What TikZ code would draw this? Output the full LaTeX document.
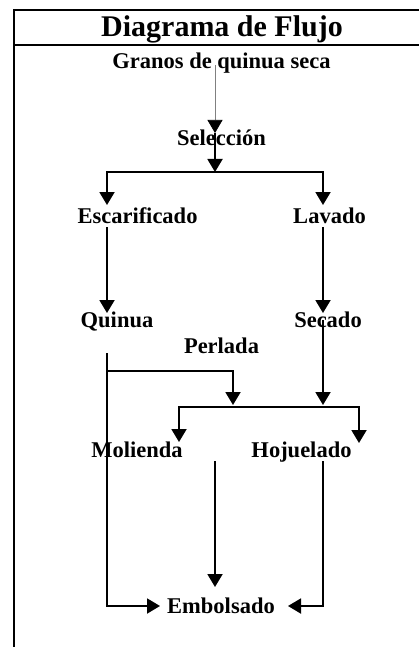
\documentclass[tikz,border=0pt]{standalone}
\usepackage{fontspec}
\setmainfont{Liberation Serif}
\usetikzlibrary{arrows.meta}

\begin{document}
\begin{tikzpicture}[x=1pt,y=-1pt,
		etiqueta/.style={font=\fontsize{22.5}{27}\selectfont\bfseries, inner sep=0pt, anchor=base},
		marco/.style={line width=2pt},
		fina/.style={line width=0.7pt, gray, -{Triangle[width=15pt,length=13pt,color=black]}},
		flecha/.style={line width=1.9pt, -{Triangle[width=15pt,length=13pt]}}]
						\useasboundingbox (0,0) rectangle (419,647);
						\draw[marco] (419,10) -- (14,10) -- (14,647);
						\draw[marco] (14,45) -- (419,45);
						\node[etiqueta, font=\fontsize{30}{36}\selectfont\bfseries] (tit) at (222,37) {Diagrama de Flujo};
						\node[etiqueta] (gra) at (221.5,69) {Granos de quinua seca};
						\node[etiqueta] (sel) at (221.5,146) {Selección};
						\node[etiqueta] (esc) at (137.5,223) {Escarificado};
						\node[etiqueta] (lav) at (329.5,223) {Lavado};
						\node[etiqueta] (qui) at (117,327) {Quinua};
						\node[etiqueta] (sec) at (328,327) {Secado};
						\node[etiqueta] (per) at (221.5,353) {Perlada};
						\node[etiqueta] (mol) at (137,457) {Molienda};
						\node[etiqueta] (hoj) at (301.5,457) {Hojuelado};
						\node[etiqueta] (emb) at (221,613) {Embolsado};
						\coordinate (gra-s) at (215,65);
						\coordinate (sel-n) at (215,133);
						\coordinate (sel-r) at (215,172);
						\coordinate (esc-n) at (107,205);
						\coordinate (esc-s) at (107,227);
						\coordinate (lav-n) at (323,205);
						\coordinate (lav-s) at (323,227);
						\coordinate (qui-n) at (107,313);
						\coordinate (qui-s) at (107,353);
						\coordinate (qui-r) at (107,371);
						\coordinate (sec-n) at (323,313);
						\coordinate (sec-s) at (323,320);
						\coordinate (per-s) at (233,405);
						\coordinate (sec-b) at (323,405);
						\coordinate (mez) at (269,407);
						\coordinate (mol-n) at (179,442);
						\coordinate (hoj-n) at (359,443);
						\coordinate (mol-s) at (215,461);
						\coordinate (hoj-s) at (323,461);
						\coordinate (emb-n) at (215,587);
						\coordinate (emb-w) at (160,606);
						\coordinate (emb-e) at (288,606);
						\draw[fina] (gra-s) -- (sel-n);
						\draw[flecha] (sel-n) -- (sel-r);
						\draw[flecha] (sel-r) -| (esc-n);
						\draw[flecha] (sel-r) -| (lav-n);
						\draw[flecha] (esc-s) -- (qui-n);
						\draw[flecha] (lav-s) -- (sec-n);
						\draw[flecha] (sec-s) -- (sec-b);
						\draw[flecha] (qui-s) |- (emb-w);
						\draw[flecha] (qui-r) -| (per-s);
						\draw[flecha] (mez) -| (mol-n);
						\draw[flecha] (mez) -| (hoj-n);
						\draw[flecha] (mol-s) -- (emb-n);
						\draw[flecha] (hoj-s) |- (emb-e);
					\end{tikzpicture}
\end{document}
